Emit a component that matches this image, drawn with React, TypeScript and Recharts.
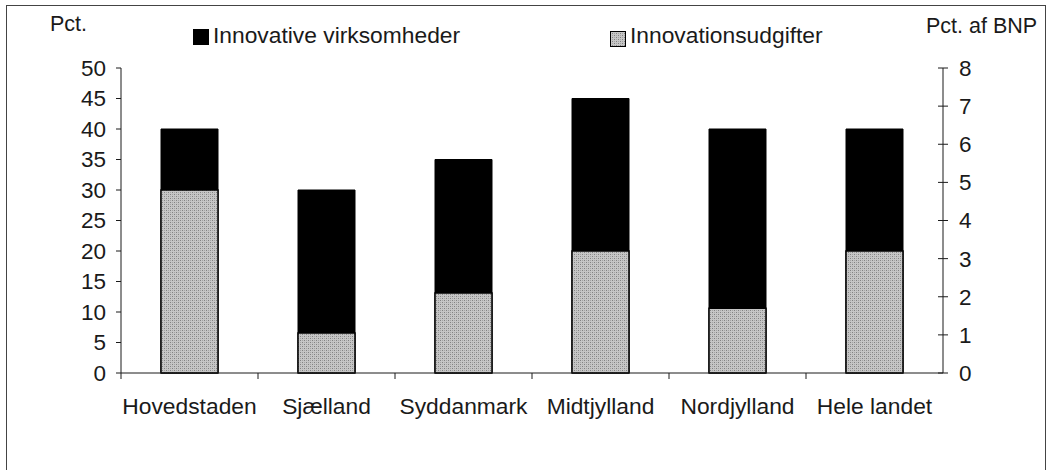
import React from 'react';
import { BarChart, Bar, XAxis, YAxis } from 'recharts';

const regions = ['Hovedstaden', 'Sjælland', 'Syddanmark', 'Midtjylland', 'Nordjylland', 'Hele landet'];
// left axis, pct.
const innovativeFirms = [40, 30, 35, 45, 40, 40];
// right axis, pct. af BNP
const innovationSpend = [4.8, 1.05, 2.1, 3.2, 1.7, 3.2];

const leftTicks = [0, 5, 10, 15, 20, 25, 30, 35, 40, 45, 50];
const rightTicks = [0, 1, 2, 3, 4, 5, 6, 7, 8];

const firmsName = 'Innovative virksomheder';
const spendName = 'Innovationsudgifter';

const data = regions.map((region, i) => ({
  region,
  firms: innovativeFirms[i],
  spend: innovationSpend[i],
}));

const FONT = '"Liberation Sans", Arial, Helvetica, sans-serif';
const INK = '#1a1a1a';

const RegionTick = (props: any) => {
  const { x, y, payload, width, visibleTicksCount } = props;
  const half = payload.offset ?? width / visibleTicksCount / 2;
  return (
    <g>
      <line x1={x - half} x2={x - half} y1={y} y2={y + 6} stroke={INK} />
      <text x={x} y={y + 41} textAnchor="middle" fontSize={22.8} fill={INK} fontFamily={FONT}>
        {payload.value}
      </text>
    </g>
  );
};

const RightTick = (props: any) => {
  const { x, y, payload } = props;
  return (
    <g>
      <line x1={x - 5} x2={x + 5} y1={y} y2={y} stroke={INK} />
      <text x={x + 16} y={y} dy="0.355em" fontSize={22.5} fill={INK} fontFamily={FONT}>
        {payload.value}
      </text>
    </g>
  );
};

export default function App() {
  return (
    <div style={{ position: 'absolute', left: 0, top: 0, width: 1051, height: 470, fontFamily: FONT, overflow: 'hidden', background: '#fff' }}>
      <div style={{ position: 'absolute', left: 6, top: 5, width: 1038, height: 480, border: '1px solid #444' }} />

      <BarChart
        width={1051}
        height={470}
        data={data}
        margin={{ top: 68, right: 48, left: 61, bottom: 67 }}
        barSize={57}
        barGap={-57}
        style={{ position: 'absolute', left: 0, top: 0 }}
      >
        <defs>
          <pattern id="speckle" width="4" height="4" patternUnits="userSpaceOnUse">
            <rect width="4" height="4" fill="#c6c6c6" />
            <rect x="0" y="0" width="1" height="1" fill="#828282" />
            <rect x="2" y="2" width="1" height="1" fill="#828282" />
            <rect x="2" y="0" width="1" height="1" fill="#a4a4a4" />
            <rect x="0" y="2" width="1" height="1" fill="#a4a4a4" />
          </pattern>
        </defs>
        <XAxis
          dataKey="region"
          height={30}
          axisLine={{ stroke: INK }}
          tickLine={false}
          tickSize={0}
          tickMargin={0}
          interval={0}
          tick={<RegionTick />}
        />
        <YAxis
          yAxisId="left"
          width={60}
          domain={[0, 50]}
          ticks={leftTicks}
          interval={0}
          axisLine={{ stroke: INK }}
          tickLine={{ stroke: INK }}
          tickSize={5}
          tickMargin={10}
          tick={{ fontSize: 22.5, fill: INK, fontFamily: FONT }}
        />
        <YAxis
          yAxisId="right"
          orientation="right"
          width={60}
          domain={[0, 8]}
          ticks={rightTicks}
          interval={0}
          axisLine={{ stroke: INK }}
          tickLine={false}
          tickSize={0}
          tickMargin={0}
          tick={<RightTick />}
        />
        <Bar yAxisId="left" dataKey="firms" name={firmsName} fill="#000" stroke="#000" isAnimationActive={false} />
        <Bar yAxisId="right" dataKey="spend" name={spendName} fill="url(#speckle)" stroke="#000" strokeWidth={1.5} isAnimationActive={false} />
      </BarChart>

      <div style={{ position: 'absolute', left: 50, top: 14, fontSize: 21.5, lineHeight: '21px', color: INK }}>Pct.</div>
      <div style={{ position: 'absolute', left: 926, top: 16, fontSize: 21.5, lineHeight: '21px', color: INK, whiteSpace: 'nowrap' }}>Pct. af BNP</div>

      <svg width={16} height={16} style={{ position: 'absolute', left: 193, top: 29 }}>
        <rect x={0.5} y={0.5} width={15} height={15} fill="#000" stroke="#000" />
      </svg>
      <div style={{ position: 'absolute', left: 213, top: 24, fontSize: 22.8, lineHeight: '22px', color: INK, whiteSpace: 'nowrap' }}>{firmsName}</div>

      <svg width={16} height={16} style={{ position: 'absolute', left: 610, top: 31 }}>
        <rect x={0.5} y={0.5} width={15} height={15} fill="url(#speckle)" stroke="#000" />
      </svg>
      <div style={{ position: 'absolute', left: 630, top: 24, fontSize: 22.8, lineHeight: '22px', color: INK, whiteSpace: 'nowrap' }}>{spendName}</div>
    </div>
  );
}
